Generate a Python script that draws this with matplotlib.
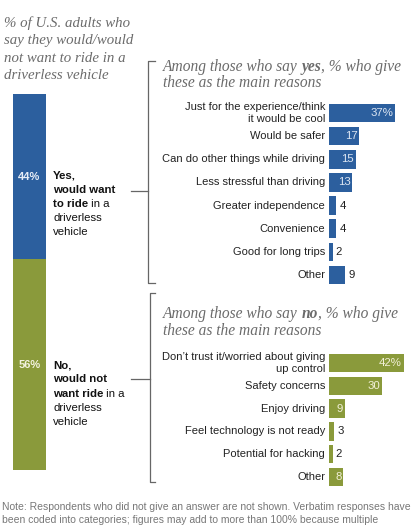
import matplotlib
matplotlib.use("Agg")
import matplotlib.pyplot as plt

W, H = 420, 530

overall_labels = ["Yes", "No"]
overall_values = [44, 56]

yes_reasons = ["Just for the experience/think\nit would be cool", "Would be safer",
               "Can do other things while driving", "Less stressful than driving",
               "Greater independence", "Convenience", "Good for long trips", "Other"]
yes_values = [37, 17, 15, 13, 4, 4, 2, 9]
yes_inside = [True, True, True, True, False, False, False, False]

no_reasons = ["Don\u2019t trust it/worried about giving\nup control", "Safety concerns",
              "Enjoy driving", "Feel technology is not ready", "Potential for hacking", "Other"]
no_values = [42, 30, 9, 3, 2, 8]
no_inside = [True, True, True, False, False, True]

BLUE = "#2c5f9e"
GREEN = "#8a9a3b"
GRAY = "#6b6b6b"
SANS = "Liberation Sans"
SERIF = "Liberation Serif"

fig = plt.figure(figsize=(W / 100, H / 100), dpi=100)
renderer = fig.canvas.get_renderer()


def fx(x):
    return x / W


def fy(y):
    return 1 - y / H


def ptext(x, y, s, **kw):
    return fig.text(fx(x), fy(y), s, **kw)


def runs(x, y, parts, **kw):
    # parts: list of (text, bold)
    for s, bold in parts:
        t = ptext(x, y, s, fontweight="bold" if bold else "normal", **kw)
        bb = t.get_window_extent(renderer)
        x = bb.x1


def pax(x0, y0, x1, y1):
    return fig.add_axes([fx(x0), fy(y1), fx(x1) - fx(x0), (y1 - y0) / H])


# left title
for i, line in enumerate(["% of U.S. adults who", "say they would/would",
                          "not want to ride in a", "driverless vehicle"]):
    ptext(4, 23 + i * 17.6, line, family=SERIF, style="italic", fontsize=10.7,
          color=GRAY, va="center")

# stacked overall bar
ax0 = pax(13, 94, 46, 470)
ax0.bar([0], [overall_values[0]], width=1, color=BLUE)
ax0.bar([0], [overall_values[1]], bottom=[overall_values[0]], width=1, color=GREEN)
ax0.set_xlim(-0.5, 0.5)
ax0.set_ylim(100, 0)
ax0.axis("off")
ax0.text(0, overall_values[0] * 0.5, f"{overall_values[0]}%", ha="center", va="center",
         color="#e8eef7", fontweight="bold", family=SANS, fontsize=8)
ax0.text(0, overall_values[0] + overall_values[1] * 0.5, f"{overall_values[1]}%", ha="center",
         va="center", color="#f3f3e0", fontweight="bold", family=SANS, fontsize=8)

# overall labels
lab = dict(family=SANS, fontsize=8.2, va="center", color="#111111")
runs(53, 176, [("Yes,", True)], **lab)
runs(53, 190, [("would want", True)], **lab)
runs(53, 204, [("to ride", True), (" in a", False)], **lab)
runs(53, 218, [("driverless", False)], **lab)
runs(53, 232, [("vehicle", False)], **lab)

runs(53, 365, [("No,", True)], **lab)
runs(53, 379, [("would not", True)], **lab)
runs(53, 394, [("want ride", True), (" in a", False)], **lab)
runs(53, 408, [("driverless", False)], **lab)
runs(53, 422, [("vehicle", False)], **lab)

# brackets and connectors
lines_ax = fig.add_axes([0, 0, 1, 1])
lines_ax.set_xlim(0, W)
lines_ax.set_ylim(H, 0)
lines_ax.axis("off")
bk = dict(color="#666666", lw=0.9)
lines_ax.plot([155, 148, 148, 155], [61, 61, 283, 283], **bk)
lines_ax.plot([131, 148], [191, 191], **bk)
lines_ax.plot([155, 150, 150, 155], [293, 293, 482, 482], **bk)
lines_ax.plot([131, 150], [379, 379], **bk)

# section titles
ttl = dict(family=SERIF, style="italic", fontsize=11.2, color=GRAY, va="center")
runs(163, 67, [("Among those who say ", False), ("yes", True), (", % who give", False)], **ttl)
runs(163, 83, [("these as the main reasons", False)], **ttl)
runs(163, 314, [("Among those who say ", False), ("no", True), (", % who give", False)], **ttl)
runs(163, 331, [("these as the main reasons", False)], **ttl)


def bars(ax, labels, values, inside, color, text_in):
    n = len(values)
    ypos = list(range(n))
    ax.barh(ypos, values, height=0.8, color=color)
    ax.set_xlim(0, 91 / 1.78)
    ax.set_ylim(n - 0.5, -0.5)
    ax.axis("off")
    for i in ypos:
        ax.text(-2.2, i, labels[i], ha="right", va="center", family=SANS, fontsize=8,
                color="#222222", linespacing=1.15)
        s = f"{values[i]}%" if i == 0 else str(values[i])
        if inside[i]:
            ax.text(values[i] - 1.0, i, s, ha="right", va="center", family=SANS,
                    fontsize=8.2, color=text_in)
        else:
            ax.text(values[i] + 1.8, i, s, ha="left", va="center", family=SANS,
                    fontsize=8.2, color="#222222")


axy = pax(329, 101.5, 420, 286.5)
bars(axy, yes_reasons, yes_values, yes_inside, BLUE, "#dde6f2")
axn = pax(329, 351.6, 420, 488.4)
bars(axn, no_reasons, no_values, no_inside, GREEN, "#f2f0d8")

# note
note = dict(family=SANS, fontsize=7.45, color="#777777", va="center")
ptext(2, 507, "Note: Respondents who did not give an answer are not shown. Verbatim responses have", **note)
ptext(2, 520, "been coded into categories; figures may add to more than 100% because multiple", **note)

fig.savefig("out.png", dpi=100)
